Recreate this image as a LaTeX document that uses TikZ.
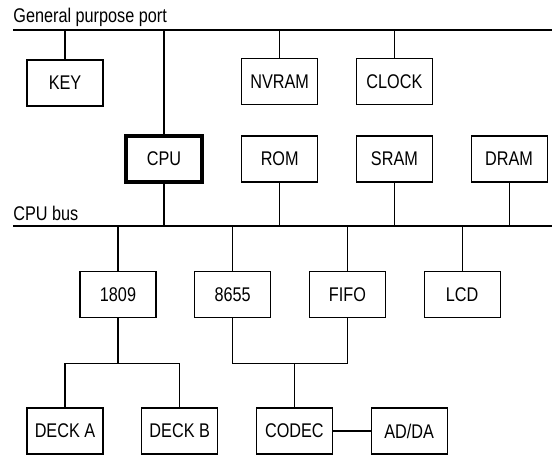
\documentclass[tikz,border=0pt]{standalone}
\usepackage{fontspec}
\setmainfont{Liberation Sans}[FakeStretch=0.82]
\usetikzlibrary{positioning}

\begin{document}
\begin{tikzpicture}[
    x=0.5pt, y=-0.5pt,
    node distance=15pt and 18.75pt,
    block/.style={draw, line width=0.6pt, minimum width=38pt, minimum height=23pt,
                  inner sep=0pt, font=\fontsize{9.9}{12}\selectfont},
    mainblock/.style={block, line width=1.6pt},
    wire/.style={line width=0.6pt},
    buslabel/.style={anchor=base west, inner sep=0pt, font=\fontsize{9.9}{12}\selectfont}
]
\useasboundingbox (0,0) rectangle (552,455);

% ── Buses ──
\coordinate (gpp west) at (13,30);
\coordinate (gpp east) at (552,30);
\coordinate (bus west) at (13,226);
\coordinate (bus east) at (552,226);
\draw[wire] (gpp west) -- (gpp east);
\draw[wire] (bus west) -- (bus east);
\node[buslabel] (gpp label) at (13,23) {General purpose port};
\node[buslabel] (bus label) at (13,220.5) {CPU bus};

% ── CPU row ──
\node[mainblock] (cpu) at (164,159) {CPU};
\node[block, right=of cpu] (rom) {ROM};
\node[block, right=of rom] (sram) {SRAM};
\node[block, right=of sram] (dram) {DRAM};

% ── Port devices ──
\node[block] (key) at (65,83) {KEY};
\node[block, above=of rom] (nvram) {NVRAM};
\node[block, above=of sram] (clock) {CLOCK};

% ── Bus devices ──
\node[block] (n1809) at (118,294.5) {1809};
\node[block, right=of n1809] (n8655) {8655};
\node[block, right=of n8655] (fifo) {FIFO};
\node[block, right=of fifo] (lcd) {LCD};

% ── Bottom row ──
\node[block] (decka) at (65,431) {DECK A};
\node[block, right=of decka] (deckb) {DECK B};
\node[block, right=of deckb] (codec) {CODEC};
\node[block, right=of codec] (adda) {AD/DA};

% ── Port connections ──
\draw[wire] (key.north) -- (key.north |- gpp west);
\draw[wire] (nvram.north) -- (nvram.north |- gpp west);
\draw[wire] (clock.north) -- (clock.north |- gpp west);
\draw[wire] (cpu.north) -- (cpu.north |- gpp west);

% ── CPU bus connections ──
\draw[wire] (cpu.south) -- (cpu.south |- bus west);
\draw[wire] (rom.south) -- (rom.south |- bus west);
\draw[wire] (sram.south) -- (sram.south |- bus west);
\draw[wire] (dram.south) -- (dram.south |- bus west);
\draw[wire] (n1809.north) -- (n1809.north |- bus west);
\draw[wire] (n8655.north) -- (n8655.north |- bus west);
\draw[wire] (fifo.north) -- (fifo.north |- bus west);
\draw[wire] (lcd.north) -- (lcd.north |- bus west);

% ── Decks and codec ──
\draw[wire] (n1809.south) -- ++(0,45) coordinate (deck fork);
\draw[wire] (decka.north) |- (deck fork) -| (deckb.north);
\draw[wire] (n8655.south) |- (fifo.south |- deck fork) -- (fifo.south);
\draw[wire] (codec.north) -- (codec.north |- deck fork);
\draw[wire] (codec) -- (adda);

\end{tikzpicture}
\end{document}
